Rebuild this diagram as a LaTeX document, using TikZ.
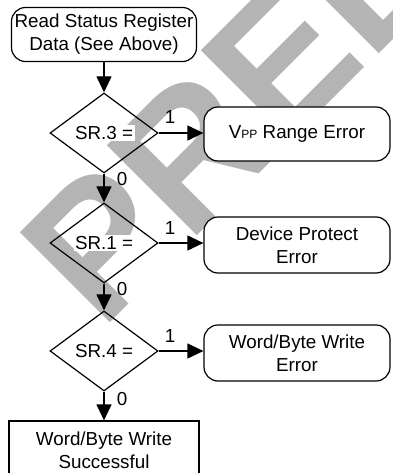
\documentclass[tikz,border=0pt]{standalone}
\usepackage{fontspec}
\setmainfont{Liberation Sans}
\newfontfamily\wmfont{Liberation Sans}
\usetikzlibrary{shapes.geometric,arrows.meta}
\definecolor{wmgray}{RGB}{180,180,180}
\newcommand{\wbox}[1]{{\setlength{\fboxsep}{1.5pt}\colorbox{white}{#1}}}
\begin{document}
\begin{tikzpicture}[x=1pt,y=-1pt,
  txt/.style={font=\fontsize{18.8}{23}\selectfont},
  term/.style={txt,draw,fill=white,rounded corners=14pt,line width=1.2pt,
    align=center,minimum width=186pt,minimum height=54pt,inner sep=0pt},
  decide/.style={txt,draw,diamond,line width=1.2pt,minimum width=108pt,
    minimum height=80pt,inner sep=0pt},
  proc/.style={txt,draw,fill=white,line width=1.2pt,align=center,
    minimum width=190pt,minimum height=58pt,inner sep=0pt},
  flow/.style={line width=1.2pt,-{Triangle[length=16pt,width=15pt]}},
  lab/.style={txt,inner sep=0pt}]
\useasboundingbox (0,0) rectangle (392,473);
\clip (0,0) rectangle (392,473);
% watermark
\node[rotate=45,anchor=base west,inner sep=0pt,text=wmgray,
  font=\wmfont\bfseries\fontsize{185}{185}\selectfont] (wm) at (101,331.5) {PRELIMINARY};
% nodes
\node[term,minimum width=185pt] (start) at (104,34.5) {Read Status Register\\Data (See Above)};
\node[decide] (d1) at (104,133) {\wbox{SR.3 =}};
\node[decide] (d2) at (104,243) {\wbox{SR.1 =}};
\node[decide] (d3) at (104,351) {\wbox{SR.4 =}};
\node[term] (e1) at (297,134) {V{\fontsize{12}{12}\selectfont PP} Range Error};
\node[term,minimum height=56pt] (e2) at (297,245) {Device Protect\\Error};
\node[term,minimum height=56pt] (e3) at (297,353) {Word/Byte Write\\Error};
\node[proc] (done) at (104,450) {Word/Byte Write\\Successful};
% connectors
\draw[flow] (start) -- (d1);
\draw[flow] (d1) -- (d2);
\draw[flow] (d2) -- (d3);
\draw[flow] (d3) -- (done);
\draw[flow] (d1) -- (e1.west |- d1);
\draw[flow] (d2) -- (e2.west |- d2);
\draw[flow] (d3) -- (e3.west |- d3);
% labels
\node[lab] (l1) at (170,117) {1};
\node[lab] (l2) at (170,228) {1};
\node[lab] (l3) at (170,336) {1};
\node[lab] (z1) at (122,179) {0};
\node[lab] (z2) at (122,289) {0};
\node[lab] (z3) at (122,399) {0};
\end{tikzpicture}
\end{document}
